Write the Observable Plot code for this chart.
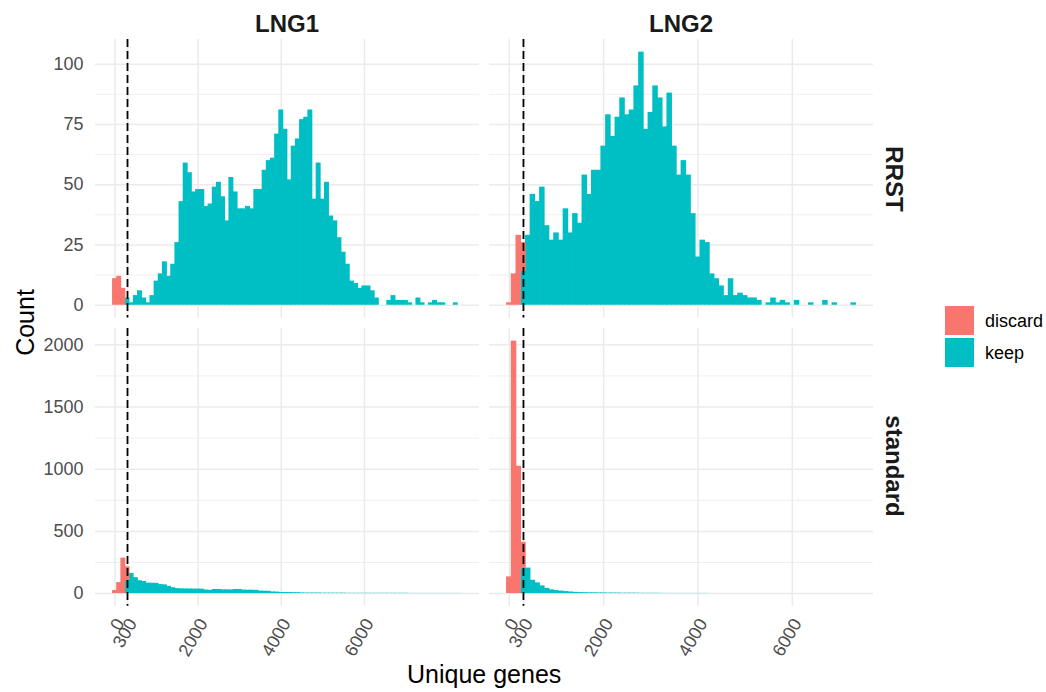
<!DOCTYPE html>
<html>
<head>
<meta charset="utf-8">
<script src="https://cdn.jsdelivr.net/npm/d3@7"></script>
<script src="https://cdn.jsdelivr.net/npm/@observablehq/plot@0.6"></script>
<style>
  html, body { margin: 0; padding: 0; background: #fff; }
  #chart { position: relative; width: 1046px; height: 692px; overflow: hidden; font-family: "Liberation Sans", Arial, Helvetica, sans-serif; }
  .lbl { position: absolute; white-space: nowrap; line-height: 1; transform-origin: center center; }
  .strip { font-weight: bold; font-size: 24px; color: #1A1A1A; }
  .title { font-size: 25px; color: #000; }
  .legtxt { font-size: 18px; color: #000; }
  .key { position: absolute; width: 29px; height: 29px; }
</style>
</head>
<body>
<div id="chart"></div>
<script>
// ---------------- data ----------------
const columns = ["LNG1", "LNG2"];
const rows = ["RRST", "standard"];
const statuses = ["discard", "keep"];
const statusColors = ["#F8766D", "#00BFC4"];
const binWidth = 100;          // genes per histogram bin
const firstBinCenter = 0;      // bin k is centred on firstBinCenter + k*binWidth
const threshold = 300;         // dashed cut-off line
const xTicks = [0, 300, 2000, 4000, 6000];
const yTicksRRST = [0, 25, 50, 75, 100];
const yMinorRRST = [12.5, 37.5, 62.5, 87.5];
const yTicksStandard = [0, 500, 1000, 1500, 2000];
const yMinorStandard = [250, 750, 1250, 1750];

// counts per bin (bin index k = 0, 1, 2, ...)
const lng1_rrst_discard = [11, 12, 7];
const lng1_rrst_keep = [0, 0, 0, 3, 1, 4, 6, 3, 1, 4, 10, 13, 18, 12, 17, 26, 43, 59, 55, 47,
  48, 48, 41, 42, 49, 51, 45, 35, 53, 47, 40, 40, 41, 40, 48, 48, 56, 60, 61, 71,
  81, 73, 52, 66, 69, 77, 78, 81, 44, 59, 44, 51, 37, 35, 28, 22, 17, 10, 9, 7,
  8, 8, 6, 3, 0, 0, 2, 4, 2, 2, 2, 1, 0, 3, 1, 0, 1, 2, 1, 1, 0, 0, 1];

const lng2_rrst_discard = [1, 13, 29, 12];
const lng2_rrst_keep = [0, 0, 0, 14, 29, 46, 43, 49, 33, 27, 30, 27, 40, 30, 38, 34, 54, 46, 56, 56,
  66, 79, 70, 78, 86, 79, 81, 91, 105, 73, 80, 91, 86, 74, 88, 66, 54, 60, 54, 38,
  20, 27, 26, 13, 11, 8, 4, 11, 4, 5, 4, 3, 3, 2, 0, 1, 3, 1, 2, 1,
  0, 2, 0, 0, 1, 0, 0, 2, 0, 1, 0, 0, 0, 1];

const lng1_standard_discard = [25, 88, 285, 110];
const lng1_standard_keep = [0, 0, 0, 105, 162, 128, 103, 97, 84, 83, 82, 72, 70, 58, 47, 40, 38, 37, 37, 36,
  36, 35, 28, 26, 33, 33, 30, 30, 29, 33, 33, 28, 27, 27, 26, 20, 19, 18, 13, 12,
  9, 8, 8, 7, 7, 5, 4, 4, 4, 4, 3, 3, 3, 3, 3, 3, 2, 2, 2, 2,
  2, 2, 2, 2, 2, 2, 2, 2, 2, 2, 2, 1, 1, 1, 1, 1, 1, 1, 1, 1, 1, 1, 1, 1];

const lng2_standard_discard = [134, 2030, 1024, 212];
const lng2_standard_keep = [0, 0, 0, 200, 205, 107, 86, 62, 42, 30, 24, 20, 16, 13, 10, 8, 7, 6, 6, 5,
  5, 4, 4, 4, 3, 3, 3, 3, 2, 2, 2, 2, 2, 1, 1, 1, 1, 1, 1, 1,
  1, 1, 1];

const panelCounts = {
  "LNG1|RRST": {discard: lng1_rrst_discard, keep: lng1_rrst_keep},
  "LNG2|RRST": {discard: lng2_rrst_discard, keep: lng2_rrst_keep},
  "LNG1|standard": {discard: lng1_standard_discard, keep: lng1_standard_keep},
  "LNG2|standard": {discard: lng2_standard_discard, keep: lng2_standard_keep}
};

// ---------------- build tables ----------------
function table(col, row) {
  const c = panelCounts[col + "|" + row];
  const out = [];
  // keep first so that discard is stacked on top (as in ggplot)
  for (const status of ["keep", "discard"]) {
    c[status].forEach((n, k) => {
      if (n > 0) {
        const center = firstBinCenter + k * binWidth;
        out.push({status, x1: center - binWidth / 2, x2: center + binWidth / 2, count: n});
      }
    });
  }
  return out;
}

function expand(lo, hi) { const d = (hi - lo) * 0.05; return [lo - d, hi + d]; }

const xDomains = columns.map(col => {
  const all = rows.flatMap(row => table(col, row));
  return expand(d3.min(all, d => d.x1), d3.max(all, d => d.x2));
});
const yDomains = rows.map(row => {
  let mx = 0;
  for (const col of columns) {
    const t = table(col, row);
    const sums = d3.rollup(t, v => d3.sum(v, d => d.count), d => d.x1);
    mx = Math.max(mx, d3.max(sums.values()));
  }
  return expand(0, mx);
});

// ---------------- layout ----------------
const panelX = [95, 489], panelW = 384;
const panelY = [39.3, 327.6], panelH = [278.4, 277.7];
const root = document.getElementById("chart");
const font = "'Liberation Sans', Arial, Helvetica, sans-serif";
const plain = d => String(d);

columns.forEach((col, ci) => {
  rows.forEach((row, ri) => {
    const mL = ci === 0 ? 60 : 0;
    const mB = ri === 1 ? 80 : 0;
    const yMajor = ri === 0 ? yTicksRRST : yTicksStandard;
    const yMinor = ri === 0 ? yMinorRRST : yMinorStandard;
    const marks = [
      Plot.gridY(yMinor, {stroke: "#EBEBEB", strokeOpacity: 1, strokeWidth: 0.8}),
      Plot.gridY(yMajor, {stroke: "#EBEBEB", strokeOpacity: 1, strokeWidth: 1.5}),
      Plot.gridX(xTicks, {stroke: "#EBEBEB", strokeOpacity: 1, strokeWidth: 1.5}),
      Plot.rectY(table(col, row), {x1: "x1", x2: "x2", y: "count", fill: "status", insetLeft: -0.4, insetRight: -0.4}),
      Plot.ruleX([threshold], {stroke: "#000", strokeWidth: 1.8, strokeDasharray: "8,4"})
    ];
    if (ci === 0) marks.push(Plot.axisY(yMajor, {tickSize: 0, tickPadding: 12, fontSize: 18, color: "#4D4D4D", label: null, tickFormat: plain}));
    if (ri === 1) marks.push(Plot.axisX(xTicks, {tickSize: 0, tickPadding: 14, dx: 5, tickRotate: -60, fontSize: 18, color: "#4D4D4D", label: null, tickFormat: plain}));
    const svg = Plot.plot({
      width: panelW + mL,
      height: panelH[ri] + mB,
      marginLeft: mL, marginRight: 0, marginTop: 0, marginBottom: mB,
      x: {domain: xDomains[ci], axis: null},
      y: {domain: yDomains[ri], axis: null},
      color: {domain: statuses, range: statusColors},
      style: `background: transparent; overflow: visible; max-width: none; font-family: ${font};`,
      marks
    });
    svg.style.position = "absolute";
    svg.style.left = (panelX[ci] - mL) + "px";
    svg.style.top = panelY[ri] + "px";
    root.appendChild(svg);
  });
});

// ---------------- text ----------------
function label(text, cls, cx, cy, rot) {
  const d = document.createElement("div");
  d.className = "lbl " + cls;
  d.textContent = text;
  root.appendChild(d);
  const w = d.offsetWidth, h = d.offsetHeight;
  d.style.left = (cx - w / 2) + "px";
  d.style.top = (cy - h / 2) + "px";
  if (rot) d.style.transform = `rotate(${rot}deg)`;
  return d;
}
columns.forEach((col, ci) => label(col, "strip", panelX[ci] + panelW / 2, 24));
rows.forEach((row, ri) => label(row, "strip", 893, panelY[ri] + panelH[ri] / 2, 90));
label("Count", "title", 25, 322, -90);
label("Unique genes", "title", 484, 674);

// legend
statuses.forEach((s, i) => {
  const k = document.createElement("div");
  k.className = "key";
  k.style.left = "945px";
  k.style.top = (306 + i * 32) + "px";
  k.style.background = statusColors[i];
  root.appendChild(k);
  const t = document.createElement("div");
  t.className = "lbl legtxt";
  t.textContent = s;
  root.appendChild(t);
  t.style.left = "985px";
  t.style.top = (306 + i * 32 + 14.5 - t.offsetHeight / 2) + "px";
});
</script>
</body>
</html>
